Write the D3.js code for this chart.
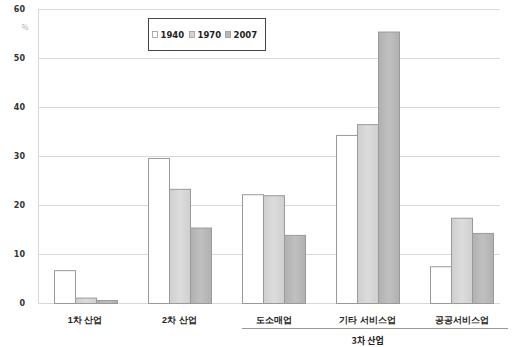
<!DOCTYPE html>
<html>
<head>
<meta charset="utf-8">
<script src="https://cdn.jsdelivr.net/npm/d3@7"></script>
<style>
  html, body { margin: 0; padding: 0; background: #fff; }
  svg { display: block; font-family: "Noto Sans CJK KR", "Noto Sans", sans-serif; }
</style>
</head>
<body>
<svg id="chart" width="516" height="347"></svg>
<script>
// Employment share by sector (%)
const categories = ["1차 산업", "2차 산업", "도소매업", "기타 서비스업", "공공서비스업"];
const years = ["1940", "1970", "2007"];
const values1940 = [6.7, 29.6, 22.2, 34.3, 7.5];
const values1970 = [1.1, 23.3, 22.0, 36.5, 17.4];
const values2007 = [0.6, 15.4, 13.9, 55.4, 14.3];
const yTicks = [0, 10, 20, 30, 40, 50, 60];
const groupLabel = "3차 산업";
const groupMembers = ["도소매업", "기타 서비스업", "공공서비스업"];
const unitLabel = "%";

const series = [values1940, values1970, values2007];
const fills = ["#ffffff", "url(#g1970)", "url(#g2007)"];
const swatchFills = ["#ffffff", "#d4d4d4", "#b8b8b8"];

const svg = d3.select("#chart");
const defs = svg.append("defs");
function gradient(id, a, b) {
  const g = defs.append("linearGradient").attr("id", id)
    .attr("x1", "0%").attr("x2", "100%").attr("y1", "0%").attr("y2", "0%");
  g.append("stop").attr("offset", "0%").attr("stop-color", a);
  g.append("stop").attr("offset", "50%").attr("stop-color", b);
  g.append("stop").attr("offset", "100%").attr("stop-color", a);
}
gradient("g1970", "#cfcfcf", "#dcdcdc");
gradient("g2007", "#b0b0b0", "#c0c0c0");

const plotLeft = 38, plotRight = 509, plotTop = 9, plotBottom = 303;

const x = d3.scaleBand().domain(categories).range([plotLeft, plotRight]).paddingInner(0).paddingOuter(0);
const xs = d3.scaleBand().domain(years).range([0, x.bandwidth()]).paddingInner(0).paddingOuter(0.74);
const y = d3.scaleLinear().domain([0, 60]).range([plotBottom, plotTop]);

// horizontal gridlines
svg.append("g").selectAll("line").data(yTicks).join("line")
  .attr("x1", plotLeft).attr("x2", 500)
  .attr("y1", d => Math.round(y(d)) + 0.5).attr("y2", d => Math.round(y(d)) + 0.5)
  .attr("stroke", "#d9d9d9").attr("stroke-width", 1);

// vertical axis line
svg.append("line").attr("x1", plotLeft + 0.5).attr("x2", plotLeft + 0.5)
  .attr("y1", plotTop).attr("y2", plotBottom)
  .attr("stroke", "#d9d9d9");

// y axis labels
const yAxis = d3.axisLeft(y).tickValues(yTicks).tickSize(0).tickPadding(0);
const gy = svg.append("g").attr("transform", `translate(25,0)`).call(yAxis);
gy.select(".domain").remove();
gy.selectAll("text").attr("font-size", 8).attr("font-weight", "bold")
  .attr("fill", "#333").attr("font-family", "'DejaVu Sans', sans-serif");

svg.append("text").attr("x", 25).attr("y", 30).attr("text-anchor", "middle")
  .attr("font-size", 7).attr("fill", "#aaa").text(unitLabel);

// bars
years.forEach((yr, i) => {
  svg.append("g").selectAll("rect").data(categories).join("rect")
    .attr("x", c => Math.round(x(c) + xs(yr)) + 0.5)
    .attr("width", Math.round(xs.bandwidth()))
    .attr("y", (c, j) => y(series[i][j]) + 0.5)
    .attr("height", (c, j) => plotBottom - y(series[i][j]))
    .attr("fill", fills[i])
    .attr("stroke", "#9a9a9a").attr("stroke-width", 1);
});

// x axis labels
const xAxis = d3.axisBottom(x).tickSize(0).tickPadding(0);
const gx = svg.append("g").attr("transform", `translate(0,${plotBottom + 14})`).call(xAxis);
gx.select(".domain").remove();
gx.selectAll("text").attr("font-size", 9).attr("font-weight", "bold").attr("fill", "#222");

// tertiary-industry grouping line and label
const gx0 = x(groupMembers[0]) + xs("1940");
const gx1 = x(groupMembers[groupMembers.length - 1]) + x.bandwidth() - 1;
svg.append("line").attr("x1", gx0).attr("x2", gx1)
  .attr("y1", 328.5).attr("y2", 328.5).attr("stroke", "#999");
svg.append("text").attr("x", x("기타 서비스업") + x.bandwidth() / 2).attr("y", 344)
  .attr("text-anchor", "middle").attr("font-size", 9).attr("font-weight", "bold")
  .attr("fill", "#222").text(groupLabel);

// legend
const lg = svg.append("g").attr("transform", "translate(148.5,18.5)");
lg.append("rect").attr("width", 117).attr("height", 32)
  .attr("fill", "#fff").attr("stroke", "#444").attr("stroke-width", 1);
const itemX = [4, 41, 77];
years.forEach((yr, i) => {
  lg.append("rect").attr("x", itemX[i]).attr("y", 13).attr("width", 5).attr("height", 6)
    .attr("fill", swatchFills[i]).attr("stroke", "#999").attr("stroke-width", 0.8);
  lg.append("text").attr("x", itemX[i] + 8).attr("y", 19.5)
    .attr("font-size", 8.5).attr("font-weight", "bold").attr("fill", "#222")
    .attr("font-family", "'DejaVu Sans', sans-serif").text(yr);
});
</script>
</body>
</html>
